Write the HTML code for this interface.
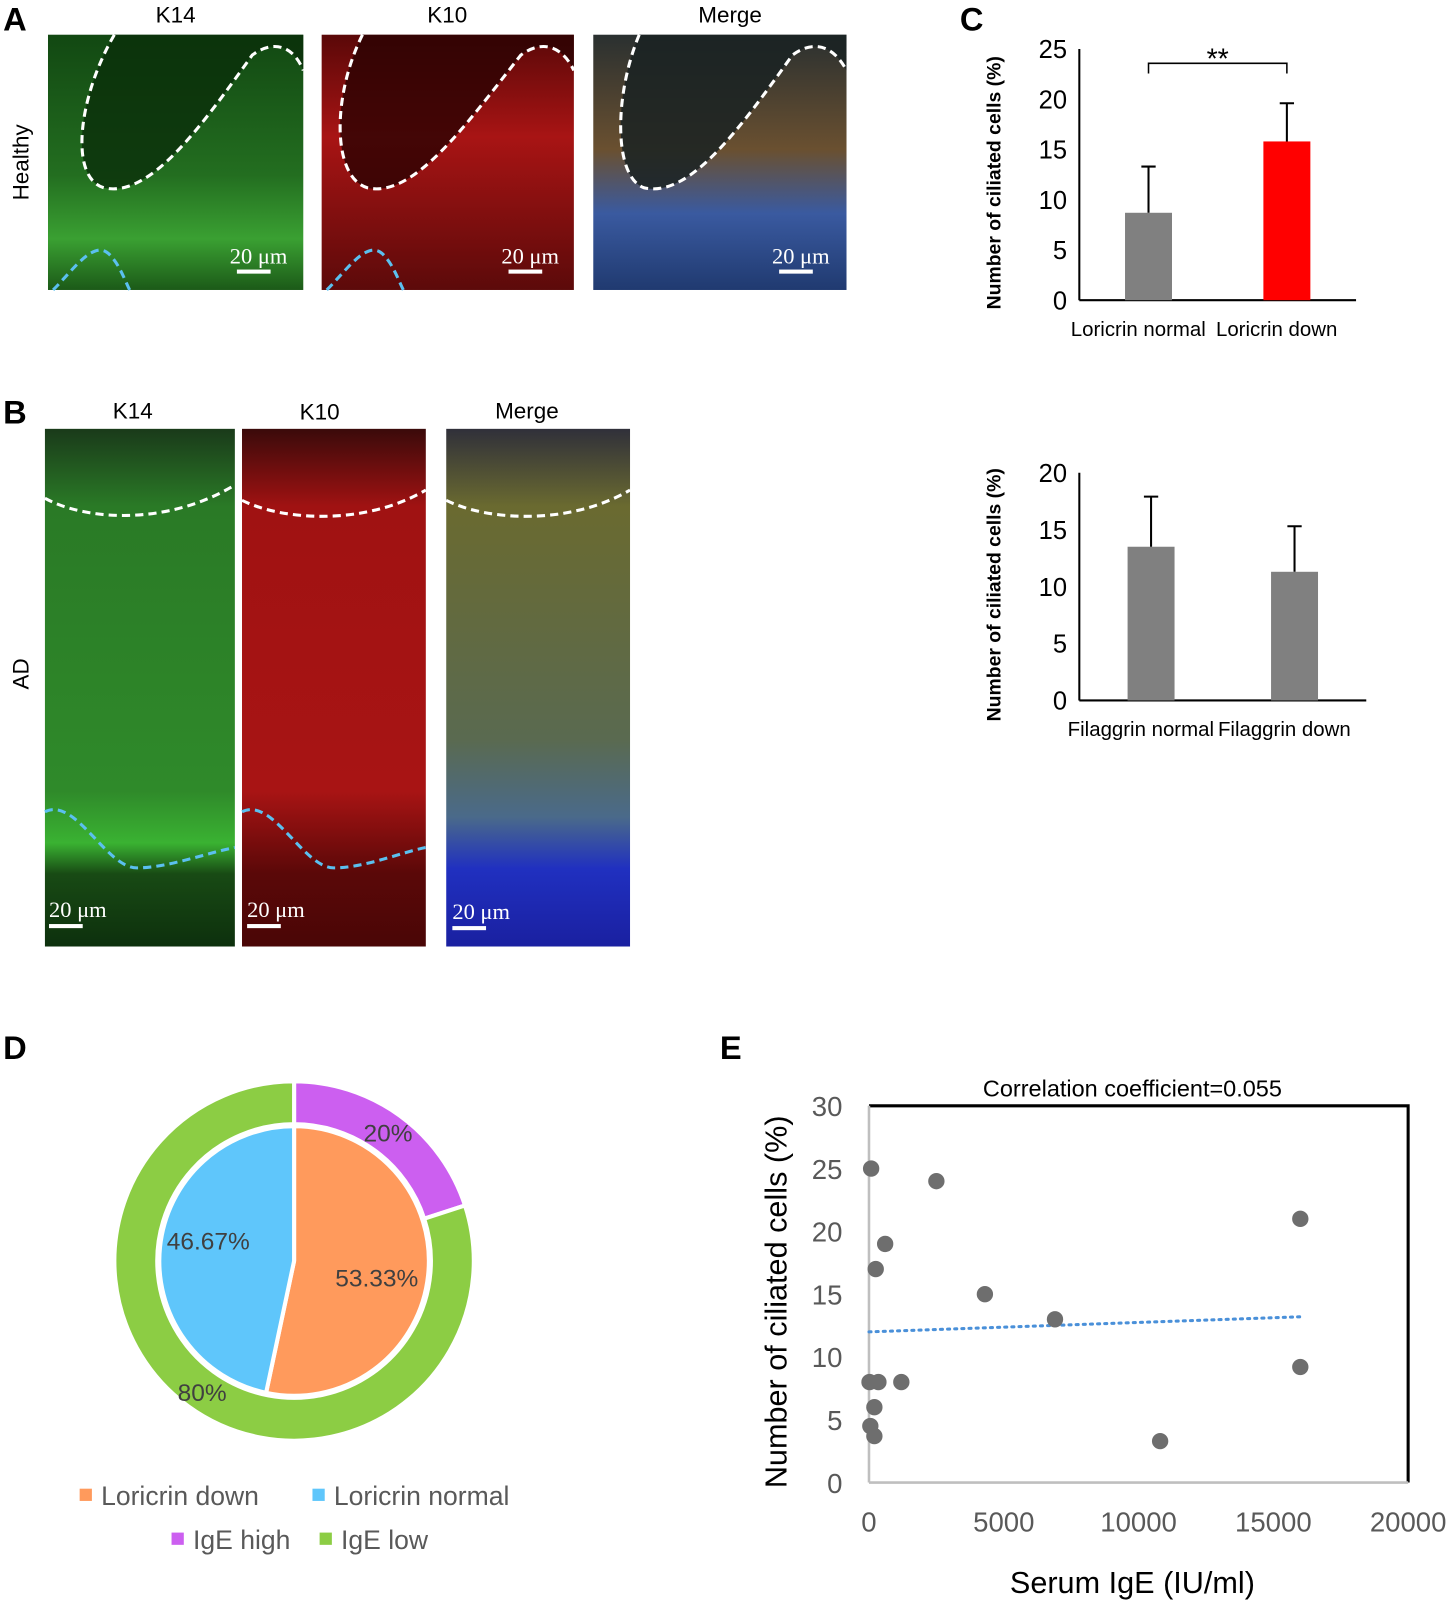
<!DOCTYPE html>
<html><head><meta charset="utf-8"><style>
body{margin:0;background:#fff;}
svg{display:block;font-family:"Liberation Sans",sans-serif;}
</style></head><body>
<svg id="fig" width="1450" height="1601" viewBox="0 0 1420 1568" preserveAspectRatio="none" xmlns="http://www.w3.org/2000/svg">
<defs>
<linearGradient id="gAg" x1="0" y1="0" x2="0" y2="1"><stop offset="0" stop-color="#124812"/><stop offset="0.55" stop-color="#236e20"/><stop offset="0.8" stop-color="#3aa032"/><stop offset="1" stop-color="#1c5a18"/></linearGradient>
<linearGradient id="gAr" x1="0" y1="0" x2="0" y2="1"><stop offset="0" stop-color="#5a0808"/><stop offset="0.4" stop-color="#a81414"/><stop offset="1" stop-color="#5c0a0a"/></linearGradient>
<linearGradient id="gAm" x1="0" y1="0" x2="0" y2="1"><stop offset="0" stop-color="#2a3030"/><stop offset="0.45" stop-color="#6a5030"/><stop offset="0.7" stop-color="#3a5aa0"/><stop offset="1" stop-color="#203a70"/></linearGradient>
<linearGradient id="gBg" x1="0" y1="0" x2="0" y2="1"><stop offset="0" stop-color="#1a3a1a"/><stop offset="0.15" stop-color="#2a7a26"/><stop offset="0.7" stop-color="#2f8a2a"/><stop offset="0.8" stop-color="#3ab232"/><stop offset="0.86" stop-color="#184a14"/><stop offset="1" stop-color="#0d300d"/></linearGradient>
<linearGradient id="gBr" x1="0" y1="0" x2="0" y2="1"><stop offset="0" stop-color="#3a0a0a"/><stop offset="0.15" stop-color="#a01212"/><stop offset="0.7" stop-color="#a81414"/><stop offset="0.86" stop-color="#5a0808"/><stop offset="1" stop-color="#4a0606"/></linearGradient>
<linearGradient id="gBm" x1="0" y1="0" x2="0" y2="1"><stop offset="0" stop-color="#30303a"/><stop offset="0.15" stop-color="#6a6a30"/><stop offset="0.6" stop-color="#5a6a50"/><stop offset="0.75" stop-color="#4a6a8a"/><stop offset="0.85" stop-color="#2030c0"/><stop offset="1" stop-color="#1a20a0"/></linearGradient>
</defs>

<!-- Panel A -->
<text x="3" y="30" font-size="32" font-weight="bold">A</text>
<text x="172" y="22" font-size="22" text-anchor="middle">K14</text>
<text x="438" y="22" font-size="22" text-anchor="middle">K10</text>
<text x="715" y="22" font-size="22" text-anchor="middle">Merge</text>
<text transform="translate(28,159) rotate(-90)" font-size="22" text-anchor="middle">Healthy</text>
<g transform="translate(47,34)">
<rect width="250" height="250" fill="url(#gAg)"/><path d="M65,0 C30,60 20,140 55,150 C100,160 150,90 200,20 C220,5 240,10 250,35 L250,0Z" fill="#0a2e0a" opacity="0.8"/>
<path d="M65,0 C30,60 20,140 55,150 C100,160 150,90 200,20 C220,5 240,10 250,35" fill="none" stroke="#fff" stroke-width="3" stroke-dasharray="8,5"/>
<path d="M5,250 C25,230 45,200 60,215 C70,225 75,240 80,250" fill="none" stroke="#5bc0ef" stroke-width="3" stroke-dasharray="8,5"/>
<text x="178" y="224" font-size="22" fill="#fff" font-family="Liberation Serif,serif">20 μm</text><rect x="185" y="230" width="33" height="4" fill="#fff"/></g>
<g transform="translate(315,34)">
<rect width="247" height="250" fill="url(#gAr)"/><path d="M40,0 C10,60 10,140 45,150 C90,160 140,90 195,20 C215,5 235,10 247,35 L247,0Z" fill="#2a0202" opacity="0.8"/>
<path d="M40,0 C10,60 10,140 45,150 C90,160 140,90 195,20 C215,5 235,10 247,35" fill="none" stroke="#fff" stroke-width="3" stroke-dasharray="8,5"/>
<path d="M5,250 C25,230 45,200 60,215 C70,225 75,240 80,250" fill="none" stroke="#5bc0ef" stroke-width="3" stroke-dasharray="8,5"/>
<text x="176" y="224" font-size="22" fill="#fff" font-family="Liberation Serif,serif">20 μm</text><rect x="183" y="230" width="33" height="4" fill="#fff"/></g>
<g transform="translate(581,34)">
<rect width="248" height="250" fill="url(#gAm)"/><path d="M45,0 C20,60 20,140 50,150 C95,160 145,90 195,20 C215,5 235,10 248,35 L248,0Z" fill="#1a2222" opacity="0.85"/>
<path d="M45,0 C20,60 20,140 50,150 C95,160 145,90 195,20 C215,5 235,10 248,35" fill="none" stroke="#fff" stroke-width="3" stroke-dasharray="8,5"/>
<text x="175" y="224" font-size="22" fill="#fff" font-family="Liberation Serif,serif">20 μm</text><rect x="182" y="230" width="33" height="4" fill="#fff"/></g>

<!-- Panel B -->
<text x="3" y="415" font-size="32" font-weight="bold">B</text>
<text x="130" y="410" font-size="22" text-anchor="middle">K14</text>
<text x="313" y="411" font-size="22" text-anchor="middle">K10</text>
<text x="516" y="410" font-size="22" text-anchor="middle">Merge</text>
<text transform="translate(28,660) rotate(-90)" font-size="22" text-anchor="middle">AD</text>
<g transform="translate(44,420)">
<rect width="186" height="507" fill="url(#gBg)"/><path d="M0,68 C40,90 120,95 186,55" fill="none" stroke="#fff" stroke-width="3" stroke-dasharray="8,5"/>
<path d="M0,375 C30,360 60,430 90,430 C120,430 160,415 186,410" fill="none" stroke="#5bc0ef" stroke-width="3" stroke-dasharray="8,5"/>
<text x="4" y="478" font-size="22" fill="#fff" font-family="Liberation Serif,serif">20 μm</text><rect x="4" y="485" width="33" height="4" fill="#fff"/></g>
<g transform="translate(237,420)">
<rect width="180" height="507" fill="url(#gBr)"/><path d="M0,70 C40,90 120,95 180,60" fill="none" stroke="#fff" stroke-width="3" stroke-dasharray="8,5"/>
<path d="M0,375 C30,360 60,430 90,430 C120,430 155,415 180,410" fill="none" stroke="#5bc0ef" stroke-width="3" stroke-dasharray="8,5"/>
<text x="5" y="478" font-size="22" fill="#fff" font-family="Liberation Serif,serif">20 μm</text><rect x="5" y="485" width="33" height="4" fill="#fff"/></g>
<g transform="translate(437,420)">
<rect width="180" height="507" fill="url(#gBm)"/><path d="M0,70 C40,90 120,95 180,60" fill="none" stroke="#fff" stroke-width="3" stroke-dasharray="8,5"/>
<text x="6" y="480" font-size="22" fill="#fff" font-family="Liberation Serif,serif">20 μm</text><rect x="6" y="487" width="33" height="4" fill="#fff"/></g>

<!-- Panel C -->
<text x="940" y="30" font-size="32" font-weight="bold">C</text>
<g id="c1"></g>
<g id="c2"></g>

<!-- Panel D -->
<text x="3" y="1037" font-size="32" font-weight="bold">D</text>
<g id="pie"></g>

<!-- Panel E -->
<text x="705" y="1037" font-size="32" font-weight="bold">E</text>
<g id="sc"></g>
</svg>
<script>
const NS="http://www.w3.org/2000/svg";
function mk(p,t,a,txt){const e=document.createElementNS(NS,t);for(const k in a)e.setAttribute(k,a[k]);if(txt!==undefined)e.textContent=txt;p.appendChild(e);return e;}

// ---- Panel C data ----
const c1Cats=["Loricrin normal","Loricrin down"];
const c1Vals=[8.7,15.8];
const c1Errs=[4.6,3.8];
const c1Ticks=[0,5,10,15,20,25];
const c2Cats=["Filaggrin normal","Filaggrin down"];
const c2Vals=[13.5,11.3];
const c2Errs=[4.4,4.0];
const c2Ticks=[0,5,10,15,20];
const barColorsC1=["#808080","#ff0000"];

function barChart(g,cats,vals,errs,ticks,o,colors,sig){
  const y=v=>o.y0-(v/ticks[ticks.length-1])*(o.y0-o.yTop);
  mk(g,"line",{x1:o.x0,y1:o.yTop,x2:o.x0,y2:o.y0,stroke:"#000","stroke-width":2});
  mk(g,"line",{x1:o.x0,y1:o.y0,x2:o.x1,y2:o.y0,stroke:"#000","stroke-width":2});
  ticks.forEach(t=>{const e=mk(g,"text",{x:o.x0-12,y:y(t)+9,"font-size":25,"text-anchor":"end",fill:"#000"},t);
    
    });
  const step=(o.x1-o.x0)/cats.length;
  cats.forEach((c,i)=>{const cx=o.x0+step*(i+0.5)+o.shift;
    const b=mk(g,"rect",{x:cx-23,y:y(vals[i]),width:46,height:o.y0-y(vals[i]),fill:colors[i]});
    
    
    const top=y(vals[i]+errs[i]);
    const er=mk(g,"path",{d:`M${cx},${y(vals[i])} V${top} M${cx-7},${top} H${cx+7}`,stroke:"#000","stroke-width":2,fill:"none"});
    
    
    const l=mk(g,"text",{x:cx-10,y:o.y0+35,"font-size":20,"text-anchor":"middle"},c);
    
    
    o.cx=o.cx||[];o.cx.push(cx);});
  const yt=mk(g,"text",{transform:`translate(${o.x0-77},${(o.y0+o.yTop)/2+8}) rotate(-90)`,"font-size":19,"font-weight":"bold","text-anchor":"middle"},"Number of ciliated cells (%)");
  
  
  if(sig){const a=o.cx[0],b2=o.cx[1];
    const s=mk(g,"path",{d:`M${a},72 V62 H${b2} V72`,stroke:"#000","stroke-width":1.5,fill:"none"});
    
    
    const st=mk(g,"text",{x:(a+b2)/2,y:67,"font-size":28,"text-anchor":"middle"},"**");
    
    }
}
barChart(document.getElementById("c1"),c1Cats,c1Vals,c1Errs,c1Ticks,{x0:1057,x1:1328,y0:294,yTop:48,shift:0},barColorsC1,true);
barChart(document.getElementById("c2"),c2Cats,c2Vals,c2Errs,c2Ticks,{x0:1057,x1:1338,y0:686,yTop:463,shift:0},["#808080","#808080"],false);

// ---- Panel D data ----
const innerLabels=["Loricrin down","Loricrin normal"];
const innerVals=[53.33,46.67];
const outerLabels=["IgE high","IgE low"];
const outerVals=[20,80];
const innerColors=["#ff9a5c","#5fc6fb"];
const outerColors=["#cc5ff0","#8ccd44"];
(function(){
  const g=document.getElementById("pie"),cx=288,cy=1235,R=176,Ri=134,r=132;
  const pt=(rad,a)=>[cx+rad*Math.sin(a),cy-rad*Math.cos(a)];
  function ring(vals,cols,names,r0,r1,prefix){let a=0;const tot=vals.reduce((s,v)=>s+v,0);
    vals.forEach((v,i)=>{const a2=a+v/tot*2*Math.PI,lg=(a2-a)>Math.PI?1:0;
      const p1=pt(r1,a),p2=pt(r1,a2);let d;
      if(r0>0){const q1=pt(r0,a2),q2=pt(r0,a);d=`M${p1} A${r1},${r1} 0 ${lg} 1 ${p2} L${q1} A${r0},${r0} 0 ${lg} 0 ${q2}Z`;}
      else d=`M${cx},${cy} L${p1} A${r1},${r1} 0 ${lg} 1 ${p2}Z`;
      const e=mk(g,"path",{d:d,fill:cols[i],stroke:"#fff","stroke-width":4});
      
      
      a=a2;});}
  ring(outerVals,outerColors,outerLabels,Ri,R,'outer');
  ring(innerVals,innerColors,innerLabels,0,r,'inner');
  const lbls=[[380,1118,outerVals[0]+"%"],[198,1372,outerVals[1]+"%"],[369,1260,innerVals[0].toFixed(2)+"%"],[204,1224,innerVals[1].toFixed(2)+"%"]];
  lbls.forEach(l=>{const e=mk(g,"text",{x:l[0],y:l[1],"font-size":24,"text-anchor":"middle",fill:"#404040"},l[2]);
    
    });
  const leg=[[85,1465,innerColors[0],innerLabels[0]],[313,1465,innerColors[1],innerLabels[1]],[175,1508,outerColors[0],outerLabels[0]],[320,1508,outerColors[1],outerLabels[1]]];
  leg.forEach(l=>{const e=mk(g,"g",{});
    
    
    mk(e,"rect",{x:l[0]-7,y:l[1]-7,width:12,height:12,fill:l[2]});
    mk(e,"text",{x:l[0]+14,y:l[1]+9,"font-size":26,fill:"#595959"},l[3]);});
})();

// ---- Panel E data ----
const igeX=[80,2500,16000,600,250,4300,6900,16000,20,350,1200,200,50,200,10800];
const ciliaY=[25,24,21,19,17,15,13,9.2,8,8,8,6,4.5,3.7,3.3];
const xTicks=[0,5000,10000,15000,20000];
const yTicksE=[0,5,10,15,20,25,30];
const trendEnds=[[0,12],[16000,13.2]];
(function(){
  const g=document.getElementById("sc"),x0=851,x1=1379,y0=1452,yT=1083;
  const X=v=>x0+v/20000*(x1-x0),Y=v=>y0-v/30*(y0-yT);
  mk(g,"path",{d:`M${x0},${yT} H${x1} V${y0}`,stroke:"#000","stroke-width":3,fill:"none"});
  mk(g,"line",{x1:x0,y1:yT,x2:x0,y2:y0,stroke:"#bfbfbf","stroke-width":2.5});
  mk(g,"line",{x1:x0,y1:y0,x2:x1,y2:y0,stroke:"#bfbfbf","stroke-width":2.5});
  yTicksE.forEach(t=>{const e=mk(g,"text",{x:x0-26,y:Y(t)+10,"font-size":27,"text-anchor":"end",fill:"#595959"},t);
    
    });
  xTicks.forEach(t=>{const e=mk(g,"text",{x:X(t),y:y0+48,"font-size":27,"text-anchor":"middle",fill:"#595959"},t);
    
    });
  const tl=mk(g,"line",{x1:X(trendEnds[0][0]),y1:Y(trendEnds[0][1]),x2:X(trendEnds[1][0]),y2:Y(trendEnds[1][1]),stroke:"#4a90d9","stroke-width":3,"stroke-dasharray":"2,5","stroke-linecap":"round"});
  
  
  igeX.forEach((v,i)=>{const c=mk(g,"circle",{cx:X(v),cy:Y(ciliaY[i]),r:8,fill:"#6e6e6e"});
    
    });
  const t=mk(g,"text",{x:1109,y:1074,"font-size":23,"text-anchor":"middle"},"Correlation coefficient=0.055");
  
  
  const xt=mk(g,"text",{x:1109,y:1560,"font-size":30,"text-anchor":"middle"},"Serum IgE (IU/ml)");
  
  
  const yt=mk(g,"text",{transform:`translate(770,1275) rotate(-90)`,"font-size":30,"text-anchor":"middle"},"Number of ciliated cells (%)");
  
  
})();
</script>
</body></html>
